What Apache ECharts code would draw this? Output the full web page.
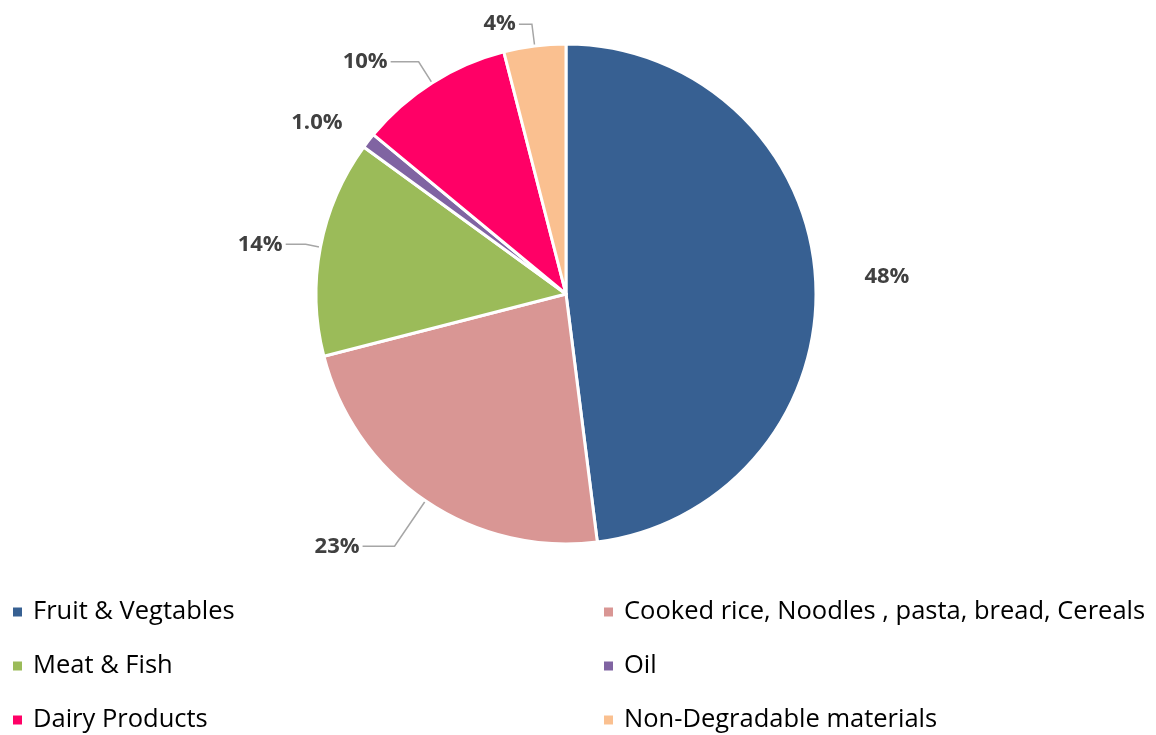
<!DOCTYPE html>
<html>
<head>
<meta charset="utf-8">
<script src="https://cdn.jsdelivr.net/npm/echarts@6/dist/echarts.min.js"></script>
<style>
html,body{margin:0;padding:0;background:#fff;}
#chart{width:1156px;height:735px;}
</style>
</head>
<body>
<div id="chart"></div>
<script>
const categories = [
  'Fruit & Vegtables',
  'Cooked rice, Noodles , pasta, bread, Cereals',
  'Meat & Fish',
  'Oil',
  'Dairy Products',
  'Non-Degradable materials'
];
const values = [48, 23, 14, 1, 10, 4];
const valueLabels = ['48%', '23%', '14%', '1.0%', '10%', '4%'];
const colors = ['#376092', '#D99694', '#9BBB59', '#8064A2', '#FF0066', '#FAC090'];

// per-slice label line settings (layout only)
const lineCfg = [
  {show: false, length: 32, length2: 14},
  {show: true, length: 55, length2: 32},
  {show: true, length: 15, length2: 20},
  {show: false, length: 29, length2: 0},
  {show: true, length: 25, length2: 28},
  {show: true, length: 22, length2: 13}
];

const data = categories.map((c, i) => ({
  name: c,
  value: values[i],
  itemStyle: {color: colors[i]},
  labelLine: lineCfg[i]
}));

const chart = echarts.init(document.getElementById('chart'), null, {renderer: 'canvas'});
const legendText = {fontFamily: 'Open Sans', fontSize: 25.5, color: '#000', lineHeight: 30, padding: [0, 0, 0, 5]};
const legendBase = {
  orient: 'vertical', top: 597, height: 138, padding: 0,
  icon: 'rect', itemWidth: 11, itemHeight: 11, itemGap: 24,
  textStyle: legendText, selectedMode: false
};
chart.setOption({
  animation: false,
  backgroundColor: '#fff',
  legend: [
    Object.assign({}, legendBase, {left: 11, data: [categories[0], categories[2], categories[4]]}),
    Object.assign({}, legendBase, {left: 602, data: [categories[1], categories[3], categories[5]]})
  ],
  series: [{
    type: 'pie',
    center: [566, 294],
    radius: [0, 250],
    startAngle: 90,
    clockwise: true,
    avoidLabelOverlap: false,
    itemStyle: {borderColor: '#fff', borderWidth: 3},
    label: {
      show: true,
      position: 'outside',
      formatter: p => valueLabels[p.dataIndex],
      fontFamily: 'Open Sans',
      fontWeight: 'bold',
      fontSize: 22,
      color: '#404040',
      distanceToLabelLine: 3
    },
    labelLine: {
      lineStyle: {color: '#A6A6A6', width: 1.5}
    },
    emphasis: {disabled: true},
    data: data
  }]
});
</script>
</body>
</html>
